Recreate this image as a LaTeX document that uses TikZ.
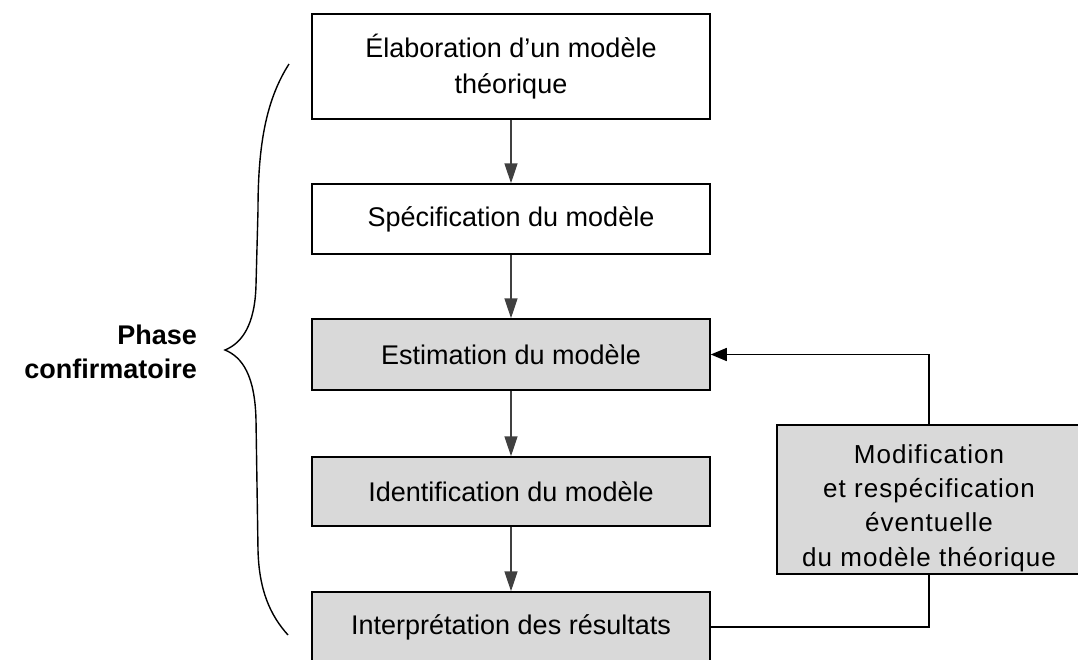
\documentclass[tikz,border=0pt]{standalone}
\usepackage{fontspec}
\setmainfont{Liberation Sans}
\newfontfamily\spacedfont[LetterSpace=4]{Liberation Sans}
\usetikzlibrary{arrows.meta}
\definecolor{boxgray}{HTML}{D9D9D9}
\definecolor{arrowgray}{HTML}{404040}
\begin{document}
\begin{tikzpicture}[x=1pt,y=-1pt,
  box/.style={draw=black, line width=1.5pt, minimum width=398pt, inner sep=0pt,
    align=center, font=\fontsize{27}{36}\selectfont},
  graybox/.style={box, fill=boxgray},
  flow/.style={draw=arrowgray, line width=1.6pt, -{Triangle[length=20pt,width=13pt]}},
  back/.style={draw=black, line width=1.5pt, -{Triangle[length=16pt,width=13pt]}},
  brace/.style={draw=black, line width=1.4pt},
  label/.style={align=right, inner sep=0pt, font=\bfseries\fontsize{27}{34}\selectfont}
]
\useasboundingbox (0,0) rectangle (1078,659);
\clip (0,0) rectangle (1078,659);

\node[box, minimum height=105pt] (b1) at (511,66.5) {Élaboration d’un modèle\\théorique};
\node[box, minimum height=70pt] (b2) at (511,219) {Spécification du modèle};
\node[graybox, minimum height=71pt] (b3) at (511,354.5) {Estimation du modèle};
\node[graybox, minimum height=69pt] (b4) at (511,491.5) {Identification du modèle};
\node[graybox, minimum height=70pt] (b5) at (511,627) {Interprétation des résultats};
\node[graybox, minimum width=304pt, minimum height=149pt,
  font=\spacedfont\fontsize{26}{34.3}\selectfont] (m) at (929,499.5)
  {\rule{0pt}{36pt}Modification\\et respécification\\éventuelle\\du modèle théorique};

\draw[flow] (b1) -- (b2);
\draw[flow] (b2) -- (b3);
\draw[flow] (b3) -- (b4);
\draw[flow] (b4) -- (b5);

\draw[line width=1.5pt] (b5.east) -| (m.south);
\draw[back] (m.north) |- (b3.east);

\draw[brace] (289,64) .. controls (266,100) and (258,145) .. (258,210)
  -- (256,285) .. controls (255,325) and (242,343) .. (225,350)
  .. controls (242,357) and (255,375) .. (256,420)
  -- (258,550) .. controls (259,590) and (270,615) .. (288,635);

\node[label, anchor=east] (lab) at (197,352) {Phase\\confirmatoire};
\end{tikzpicture}
\end{document}
